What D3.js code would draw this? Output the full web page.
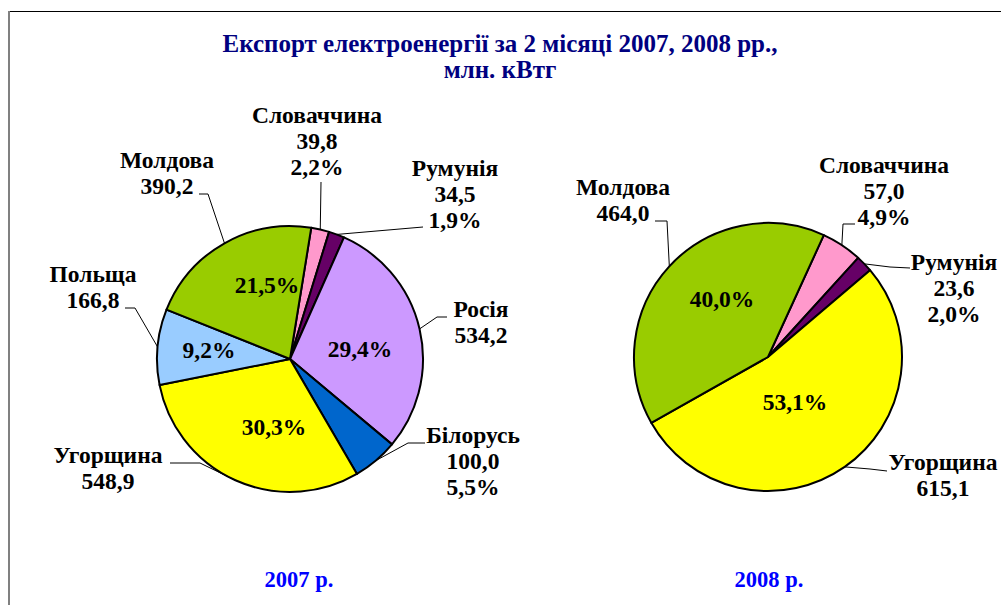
<!DOCTYPE html>
<html>
<head>
<meta charset="utf-8">
<script src="https://cdn.jsdelivr.net/npm/d3@7"></script>
<style>
  body { margin: 0; background: #fff; }
</style>
</head>
<body>
<div id="canvas"></div>
<script>
"use strict"

let svgWidth = 1001
let svgHeight = 605

/* data */
let countries2007 = ["Словаччина", "Румунія", "Росія", "Білорусь", "Угорщина", "Польща", "Молдова"]
let values2007 = [39.8, 34.5, 534.2, 100.0, 548.9, 166.8, 390.2]
let percents2007 = ["2,2%", "1,9%", "29,4%", "5,5%", "30,3%", "9,2%", "21,5%"]

let countries2008 = ["Словаччина", "Румунія", "Угорщина", "Молдова"]
let values2008 = [57.0, 23.6, 615.1, 464.0]
let percents2008 = ["4,9%", "2,0%", "53,1%", "40,0%"]

let yearLabels = ["2007 р.", "2008 р."]
let titleLines = ["Експорт електроенергії за 2 місяці 2007, 2008 рр.,", "млн. кВтг"]

let colors = {
  "Словаччина": "#FF99CC",
  "Румунія": "#660066",
  "Росія": "#CC99FF",
  "Білорусь": "#0066CC",
  "Угорщина": "#FFFF00",
  "Польща": "#99CCFF",
  "Молдова": "#99CC00"
}

/* layout of each pie: label spots, leader elbows, inner percent spots */
let pies = [
  {
    countries: countries2007, values: values2007, percents: percents2007, year: yearLabels[0],
    cx: 290, cy: 359, r: 133, start: 9.2, yearX: 299,
    outside: {
      "Словаччина": {pos: [317, 123], pct: true, leader: [[321, 182]]},
      "Румунія": {pos: [455, 176], pct: true, leader: [[423, 227]]},
      "Росія": {pos: [481, 317], pct: false, leader: [[447, 317], [437, 317]]},
      "Білорусь": {pos: [473, 443], pct: true, leader: [[425, 443], [408, 443]]},
      "Угорщина": {pos: [108, 463], pct: false, leader: [[170, 463], [200, 463]]},
      "Польща": {pos: [93, 282], pct: false, leader: [[125, 308], [135, 308]]},
      "Молдова": {pos: [167, 168], pct: false, leader: [[199, 194], [208, 194]]}
    },
    inside: {
      "Росія": [360, 357],
      "Угорщина": [274, 435],
      "Польща": [209, 358],
      "Молдова": [267, 293]
    }
  },
  {
    countries: countries2008, values: values2008, percents: percents2008, year: yearLabels[1],
    cx: 768, cy: 357, r: 134, start: 24.6, yearX: 769,
    outside: {
      "Словаччина": {pos: [884, 173], pct: true, leader: [[855, 224], [843, 224]]},
      "Румунія": {pos: [954, 270], pct: true, leader: [[910, 268], [890, 267]]},
      "Угорщина": {pos: [943, 470], pct: false, leader: [[887, 471], [870, 469]]},
      "Молдова": {pos: [623, 195], pct: false, leader: [[655, 221], [667, 221]]}
    },
    inside: {
      "Угорщина": [795, 410],
      "Молдова": [722, 307]
    }
  }
]

let fmt = d => d3.format(".1f")(d).replace(".", ",")
let lineGap = 26
let serif = "Liberation Serif"
let labelSize = 23.5

let svg = d3.select("#canvas")
  .append("svg")
  .attr("width", svgWidth)
  .attr("height", svgHeight)

/* frame */
svg.append("line")
  .attr("x1", 8).attr("x2", svgWidth)
  .attr("y1", 11.5).attr("y2", 11.5)
  .attr("stroke", "black")
  .attr("stroke-width", 1.2)

svg.append("line")
  .attr("x1", 9).attr("x2", 9)
  .attr("y1", 11).attr("y2", svgHeight)
  .attr("stroke", "#808080")
  .attr("stroke-width", 2)

/* title */
svg.append("text")
  .attr("x", 500)
  .attr("y", 52)
  .attr("text-anchor", "middle")
  .attr("font-family", serif)
  .attr("font-weight", "bold")
  .attr("fill", "#000080")
  .attr("font-size", 25)
  .selectAll("tspan")
  .data(titleLines)
  .join("tspan")
  .attr("x", 500)
  .attr("dy", (d, i) => i === 0 ? 0 : 26)
  .text(d => d)

pies.forEach(p => {
  let rad = Math.PI / 180
  let pie = d3.pie()
    .sort(null)
    .startAngle(p.start * rad)
    .endAngle(p.start * rad + 2 * Math.PI)

  let arcs = pie(p.values)
  let arc = d3.arc().innerRadius(0).outerRadius(p.r)

  let g = svg.append("g")
    .attr("transform", "translate(" + p.cx + "," + p.cy + ")")

  g.selectAll("path")
    .data(arcs)
    .join("path")
    .attr("d", arc)
    .attr("fill", (d, i) => colors[p.countries[i]])
    .attr("stroke", "black")
    .attr("stroke-width", 2)
    .attr("stroke-linejoin", "round")

  arcs.forEach((a, i) => {
    let name = p.countries[i]
    let o = p.outside[name]
    let mid = (a.startAngle + a.endAngle) / 2
    let edge = [p.cx + p.r * Math.sin(mid), p.cy - p.r * Math.cos(mid)]

    /* leader line */
    let pts = o.leader.concat([edge])
    svg.append("path")
      .attr("d", d3.line()(pts))
      .attr("fill", "none")
      .attr("stroke", "black")
      .attr("stroke-width", 1)

    /* outside label */
    let lines = [name, fmt(p.values[i])]
    if (o.pct) lines.push(p.percents[i])
    svg.append("text")
      .attr("text-anchor", "middle")
      .attr("font-family", serif)
      .attr("font-weight", "bold")
      .attr("font-size", labelSize)
      .attr("fill", "black")
      .selectAll("tspan")
      .data(lines)
      .join("tspan")
      .attr("x", o.pos[0])
      .attr("y", (d, k) => o.pos[1] + k * lineGap)
      .text(d => d)

    /* inside percent */
    if (p.inside[name]) {
      svg.append("text")
        .attr("x", p.inside[name][0])
        .attr("y", p.inside[name][1])
        .attr("text-anchor", "middle")
        .attr("font-family", serif)
        .attr("font-weight", "bold")
        .attr("font-size", labelSize)
        .attr("fill", "black")
        .text(p.percents[i])
    }
  })

  /* year under the pie */
  svg.append("text")
    .attr("x", p.yearX)
    .attr("y", 587)
    .attr("text-anchor", "middle")
    .attr("font-family", serif)
    .attr("font-weight", "bold")
    .attr("fill", "#0000FF")
    .attr("font-size", 22.5)
    .text(p.year)
})
</script>
</body>
</html>
